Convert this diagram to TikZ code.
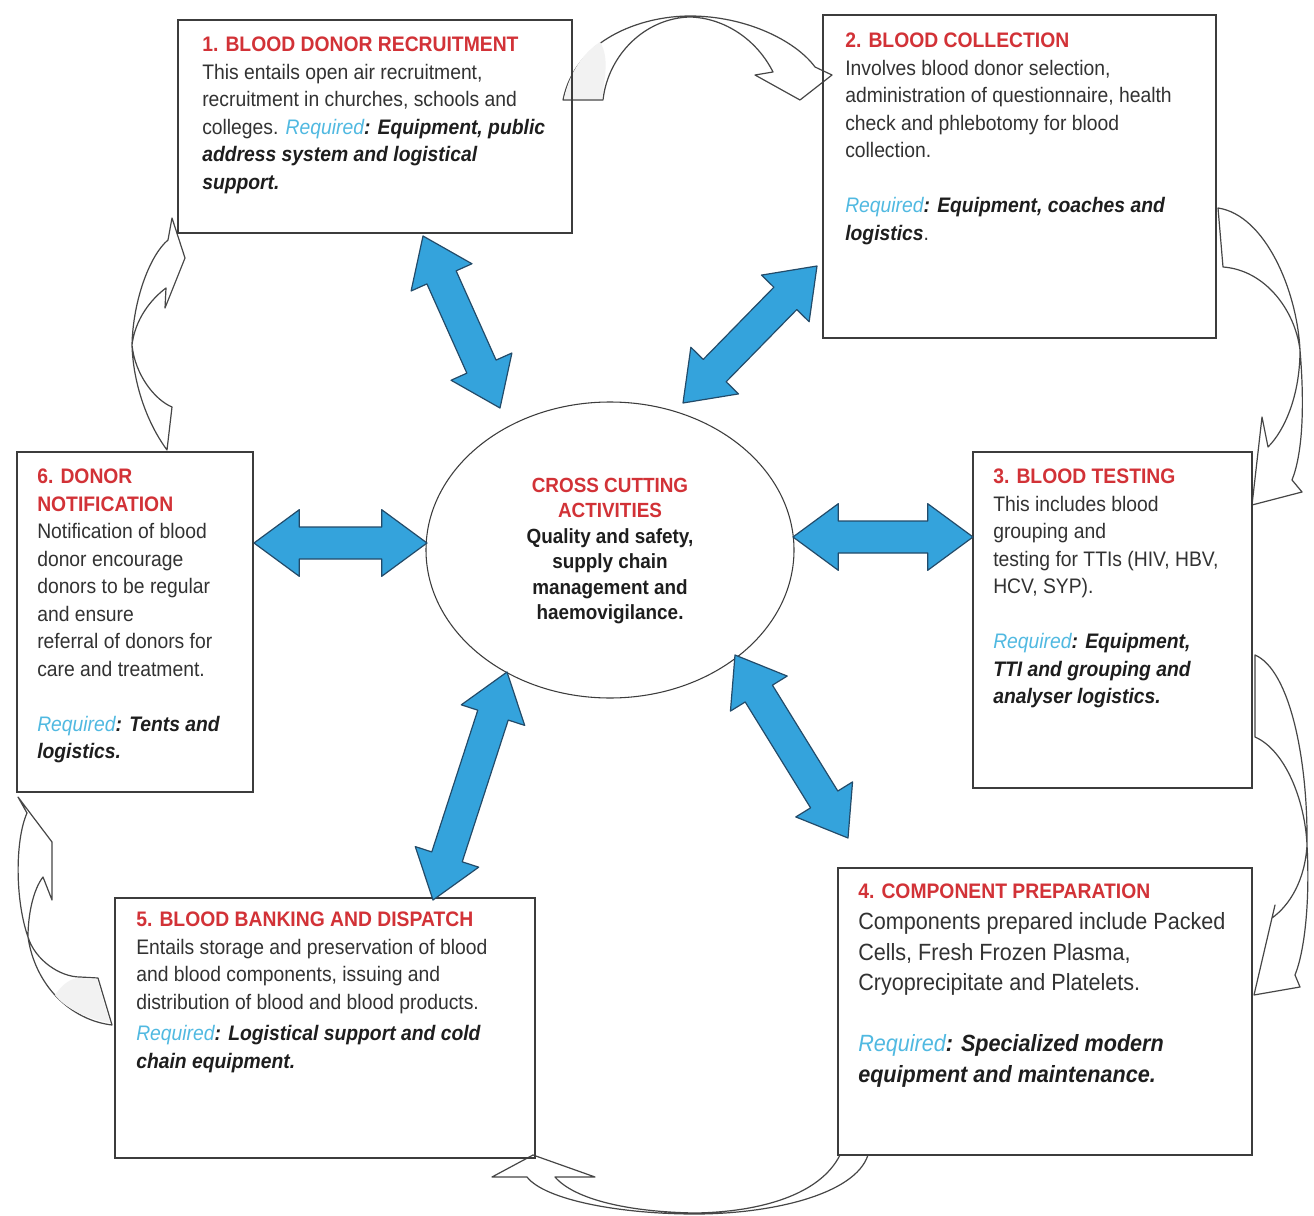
\documentclass[tikz,border=0pt]{standalone}
\usepackage{fontspec}
\setmainfont{Liberation Sans}[FakeStretch=0.92]
\usetikzlibrary{calc,shapes.geometric,fit}
\definecolor{redT}{RGB}{210,50,55}
\definecolor{blueT}{RGB}{80,185,225}
\definecolor{bodyc}{RGB}{50,50,50}
\definecolor{darkc}{RGB}{30,30,30}
\definecolor{boxc}{RGB}{60,60,60}
\definecolor{arrowblue}{RGB}{52,163,220}
\definecolor{arrowedge}{RGB}{35,75,105}
\definecolor{curvc}{RGB}{70,70,70}
\newcommand\bodyf{\fontsize{15.75pt}{20.6pt}\selectfont}
\newcommand\bigf{\fontsize{17.6pt}{22.9pt}\selectfont}
\newcommand\ellf{\fontsize{15.4pt}{19.1pt}\selectfont\bfseries}
\newcommand\ttl[1]{{\bfseries\color{redT}#1}}
\newcommand\req{{\itshape\color{blueT}Required}}
\newcommand\bi[1]{{\bfseries\itshape\color{darkc}#1}}
\def\hl{34pt}\def\hw{25pt}\def\sw{12pt}
\newcommand\dblarrow[2]{%
  \coordinate (ha) at ($(#1)!\hl!(#2)$);
  \coordinate (hb) at ($(#2)!\hl!(#1)$);
  \draw[blu] (#1) -- ($(ha)!\hw!90:(#2)$) -- ($(ha)!\sw!90:(#2)$)
    -- ($(hb)!\sw!-90:(#1)$) -- ($(hb)!\hw!-90:(#1)$) -- (#2)
    -- ($(hb)!\hw!90:(#1)$) -- ($(hb)!\sw!90:(#1)$)
    -- ($(ha)!\sw!-90:(#2)$) -- ($(ha)!\hw!-90:(#2)$) -- cycle;}
\tikzset{
  box/.style={draw=boxc, line width=1.1pt, inner sep=0pt},
  txt/.style={anchor=north west, align=left, inner sep=0pt, font=\bodyf, text=bodyc},
  blu/.style={fill=arrowblue, draw=arrowedge, line width=0.9pt, line join=round},
  curv/.style={draw=curvc, line width=0.9pt, fill=white, line join=round},
  tailfill/.style={fill=gray!10, draw=none},
}
\begin{document}
\begin{tikzpicture}[x=0.75pt,y=-0.75pt]
\useasboundingbox[fill=white] (0,0) rectangle (1314,1216);

% ---- curved (white) cycle arrows ----
% 1 -> 2
\draw[curv] (563,100) .. controls (575,40) and (640,16) .. (690,16)
  .. controls (745,16) and (795,40) .. (815,67) -- (832,75) -- (800,100) -- (755,75) -- (773,72)
  .. controls (757,40) and (725,18) .. (690,17)
  .. controls (645,18) and (608,55) .. (603,100) -- cycle;
\fill[tailfill] (564,99) .. controls (570,70) and (585,52) .. (600,42)
  .. controls (610,58) and (604,80) .. (602,99) -- cycle;
% 2 -> 3
\draw[curv] (1218,208) .. controls (1265,215) and (1297,290) .. (1300,350)
  .. controls (1305,410) and (1302,455) .. (1292,480) -- (1302,492) -- (1252,505) -- (1262,417) -- (1268,447)
  .. controls (1285,430) and (1300,395) .. (1300,350)
  .. controls (1295,310) and (1265,270) .. (1223,267) -- cycle;
% 3 -> 4
\draw[curv] (1255,655) .. controls (1290,670) and (1308,760) .. (1307,845)
  .. controls (1310,900) and (1305,950) .. (1295,975) -- (1300,987) -- (1254,995) -- (1275,905) -- (1272,918)
  .. controls (1290,905) and (1305,880) .. (1307,845)
  .. controls (1305,800) and (1285,750) .. (1255,737) -- cycle;
% 4 -> 5
\draw[curv] (868,1155) .. controls (855,1195) and (770,1214) .. (695,1214)
  .. controls (620,1214) and (545,1200) .. (527,1177) -- (492,1177) -- (533,1155) -- (595,1177) -- (555,1177)
  .. controls (575,1200) and (630,1212) .. (695,1213)
  .. controls (760,1212) and (820,1195) .. (840,1155) -- cycle;
% 5 -> 6
\draw[curv] (112,1025) .. controls (70,1020) and (35,985) .. (28,937)
  .. controls (15,900) and (15,840) .. (27,813) -- (18,797) -- (52,842) -- (52,900) -- (43,877)
  .. controls (33,890) and (28,915) .. (28,937)
  .. controls (35,960) and (60,977) .. (80,977) -- (98,978) -- cycle;
\fill[tailfill] (110,1023) .. controls (85,1018) and (65,1008) .. (55,995)
  .. controls (62,985) and (70,978) .. (80,978) -- (97,979) -- cycle;
% 6 -> 1
\draw[curv] (167,450) .. controls (145,420) and (133,380) .. (132,345)
  .. controls (133,300) and (150,255) .. (168,240) -- (172,218) -- (185,258) -- (165,308) -- (166,288)
  .. controls (150,300) and (135,320) .. (132,345)
  .. controls (135,375) and (155,400) .. (172,407) -- cycle;

% ---- boxes ----
\node[box, fit={(178,20) (572,233)}] (b1) {};
\node[box, fit={(823,15) (1216,338)}] (b2) {};
\node[box, fit={(973,452) (1252,788)}] (b3) {};
\node[box, fit={(838,868) (1252,1155)}] (b4) {};
\node[box, fit={(115,898) (535,1158)}] (b5) {};
\node[box, fit={(17,452) (253,792)}] (b6) {};

% ---- centre ellipse ----
\node[draw=boxc, line width=0.8pt, ellipse, minimum width=276pt, minimum height=222pt, inner sep=0pt] (el) at (610,550) {};
\node[align=center, font=\ellf, text=darkc, inner sep=0pt] (ct) at (610,551)
  {{\color{redT}CROSS CUTTING}\\{\color{redT}ACTIVITIES}\\Quality and safety,\\supply chain\\management and\\haemovigilance.};

% ---- box texts ----
\node[txt] (t1) at (202,37) {\ttl{1. BLOOD DONOR RECRUITMENT}\\
This entails open air recruitment,\\
recruitment in churches, schools and\\
colleges. \req\bi{: Equipment, public}\\
\bi{address system and logistical}\\
\bi{support.}};

\node[txt] (t2) at (845,33) {\ttl{2. BLOOD COLLECTION}\\
Involves blood donor selection,\\
administration of questionnaire, health\\
check and phlebotomy for blood\\
collection.\\[20.6pt]
\req\bi{: Equipment, coaches and}\\
\bi{logistics}.};

\node[txt] (t3) at (993,469) {\ttl{3. BLOOD TESTING}\\
This includes blood\\
grouping and\\
testing for TTIs (HIV, HBV,\\
HCV, SYP).\\[20.6pt]
\req\bi{: Equipment,}\\
\bi{TTI and grouping and}\\
\bi{analyser logistics.}};

\node[txt, font=\bigf] (t4) at (858,884) {{\bodyf\ttl{4. COMPONENT PREPARATION}}\\
Components prepared include Packed\\
Cells, Fresh Frozen Plasma,\\
Cryoprecipitate and Platelets.\\[22.9pt]
\req\bi{: Specialized modern}\\
\bi{equipment and maintenance.}};

\node[txt] (t5) at (136,912) {\ttl{5. BLOOD BANKING AND DISPATCH}\\
Entails storage and preservation of blood\\
and blood components, issuing and\\
distribution of blood and blood products.\\[3pt]
\req\bi{: Logistical support and cold}\\
\bi{chain equipment.}};

\node[txt] (t6) at (37,469) {\ttl{6. DONOR}\\
\ttl{NOTIFICATION}\\
Notification of blood\\
donor encourage\\
donors to be regular\\
and ensure\\
referral of donors for\\
care and treatment.\\[20.6pt]
\req\bi{: Tents and}\\
\bi{logistics.}};

% ---- blue double arrows ----
\coordinate (a1s) at (423,236); \coordinate (a1e) at (500,408);
\coordinate (a2s) at (817,266); \coordinate (a2e) at (683,403);
\coordinate (a3s) at (254,543); \coordinate (a3e) at (427,543);
\coordinate (a4s) at (793,537); \coordinate (a4e) at (973,537);
\coordinate (a5s) at (507,672); \coordinate (a5e) at (433,900);
\coordinate (a6s) at (735,655); \coordinate (a6e) at (848,838);
\dblarrow{a1s}{a1e}
\dblarrow{a2s}{a2e}
\dblarrow{a3s}{a3e}
\dblarrow{a4s}{a4e}
\dblarrow{a5s}{a5e}
\dblarrow{a6s}{a6e}
\end{tikzpicture}
\end{document}
